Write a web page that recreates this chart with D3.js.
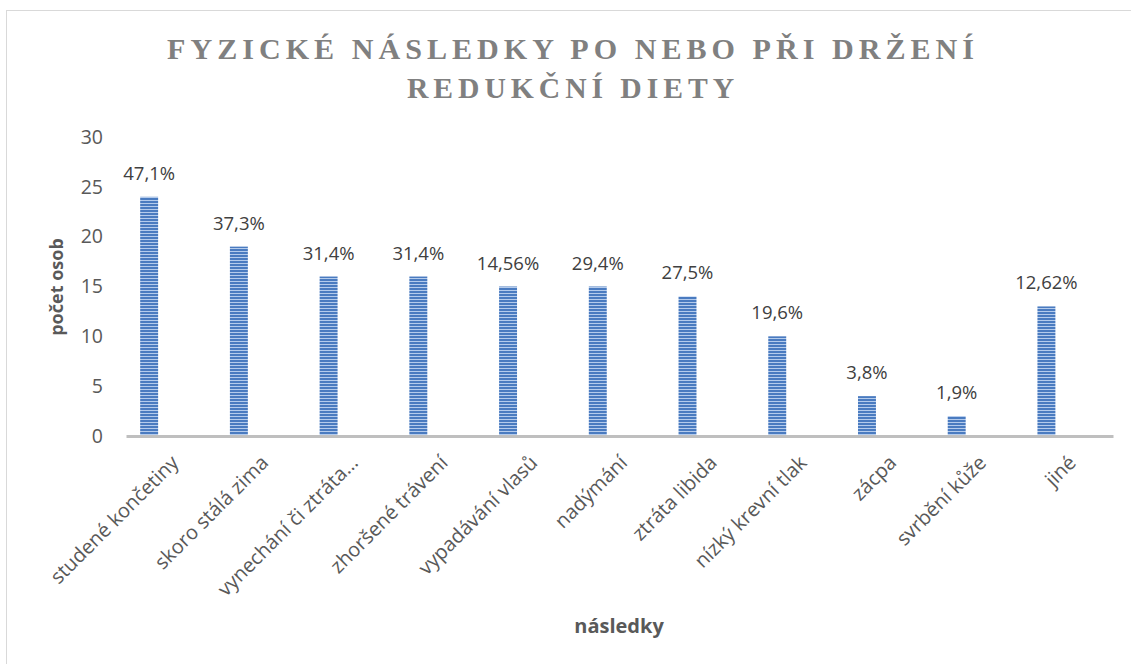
<!DOCTYPE html>
<html>
<head>
<meta charset="utf-8">
<script src="https://cdn.jsdelivr.net/npm/d3@7"></script>
<style>
  body { margin: 0; background: #fff; }
  svg { display: block; }
</style>
</head>
<body>
<svg width="1131" height="664"></svg>
<script>
const categories = ["studené končetiny", "skoro stálá zima", "vynechání či ztráta…", "zhoršené trávení",
  "vypadávání vlasů", "nadýmání", "ztráta libida", "nízký krevní tlak", "zácpa", "svrbění kůže", "jiné"];
const counts = [24, 19, 16, 16, 15, 15, 14, 10, 4, 2, 13];
const percentLabels = ["47,1%", "37,3%", "31,4%", "31,4%", "14,56%", "29,4%", "27,5%", "19,6%", "3,8%", "1,9%", "12,62%"];
const yTicks = [0, 5, 10, 15, 20, 25, 30];
const titleLines = ["FYZICKÉ NÁSLEDKY PO NEBO PŘI DRŽENÍ", "REDUKČNÍ DIETY"];

const svg = d3.select("svg");
const font = "'Open Sans', 'Noto Sans', sans-serif";

// frame
svg.append("rect")
  .attr("x", 6.5).attr("y", 10.5)
  .attr("width", 1140).attr("height", 670)
  .attr("fill", "none")
  .attr("stroke", "#d9d9d9");

// striped fill like the original
const defs = svg.append("defs");
const pat = defs.append("pattern")
  .attr("id", "stripes")
  .attr("patternUnits", "userSpaceOnUse")
  .attr("width", 10).attr("height", 3);
pat.append("rect").attr("width", 10).attr("height", 3).attr("fill", "#4a7bc0");
pat.append("rect").attr("y", 2).attr("width", 10).attr("height", 1).attr("fill", "#b4cbec");

const x = d3.scaleBand()
  .domain(categories)
  .range([126, 1113])
  .padding(0);

const y = d3.scaleLinear()
  .domain([0, 30])
  .range([436, 137]);

// title
const title = svg.append("g");
titleLines.forEach((t, i) => {
  title.append("text")
    .attr("x", 573)
    .attr("y", 59 + i * 39)
    .attr("text-anchor", "middle")
    .attr("font-family", "'Liberation Serif', 'DejaVu Serif', serif")
    .attr("font-weight", "bold")
    .attr("font-size", 30)
    .attr("letter-spacing", 5)
    .attr("textLength", i === 0 ? 812 : 332)
    .attr("lengthAdjust", "spacingAndGlyphs")
    .attr("fill", "#808080")
    .text(t);
});

// y axis labels (no line, no ticks)
const yAxis = svg.append("g")
  .attr("transform", "translate(103,0)")
  .call(d3.axisLeft(y).tickValues(yTicks).tickSize(0).tickPadding(0));
yAxis.select(".domain").remove();
yAxis.selectAll("text")
  .attr("font-family", font)
  .attr("font-size", 19.5)
  .attr("fill", "#595959");

// bars
const bw = x.bandwidth();
svg.append("g")
  .selectAll("rect")
  .data(counts)
  .enter().append("rect")
  .attr("x", (d, i) => x(categories[i]) + bw * 0.158)
  .attr("width", bw * 0.2)
  .attr("y", d => y(d))
  .attr("height", d => y(0) - y(d))
  .attr("fill", "url(#stripes)");

// data labels
svg.append("g")
  .selectAll("text")
  .data(counts)
  .enter().append("text")
  .attr("x", (d, i) => x(categories[i]) + bw * 0.258)
  .attr("y", d => y(d) - 17)
  .attr("text-anchor", "middle")
  .attr("font-family", font)
  .attr("font-size", 18.5)
  .attr("fill", "#404040")
  .text((d, i) => percentLabels[i]);

// x axis
const xAxis = svg.append("g")
  .attr("transform", "translate(0,436)")
  .call(d3.axisBottom(x).tickSize(0).tickPadding(0));
xAxis.select(".domain")
  .attr("stroke", "#bfbfbf")
  .attr("stroke-width", 3);
xAxis.selectAll("text")
  .attr("font-family", font)
  .attr("font-size", 20)
  .attr("fill", "#595959")
  .attr("text-anchor", "end")
  .attr("dy", null)
  .attr("transform", "translate(9,28) rotate(-45)");

// axis titles
svg.append("text")
  .attr("transform", "translate(63,287) rotate(-90)")
  .attr("text-anchor", "middle")
  .attr("font-family", font)
  .attr("font-weight", "bold")
  .attr("font-size", 18)
  .attr("fill", "#595959")
  .text("počet osob");

svg.append("text")
  .attr("x", 619)
  .attr("y", 633)
  .attr("text-anchor", "middle")
  .attr("font-family", font)
  .attr("font-weight", "bold")
  .attr("font-size", 20)
  .attr("fill", "#595959")
  .text("následky");
</script>
</body>
</html>
